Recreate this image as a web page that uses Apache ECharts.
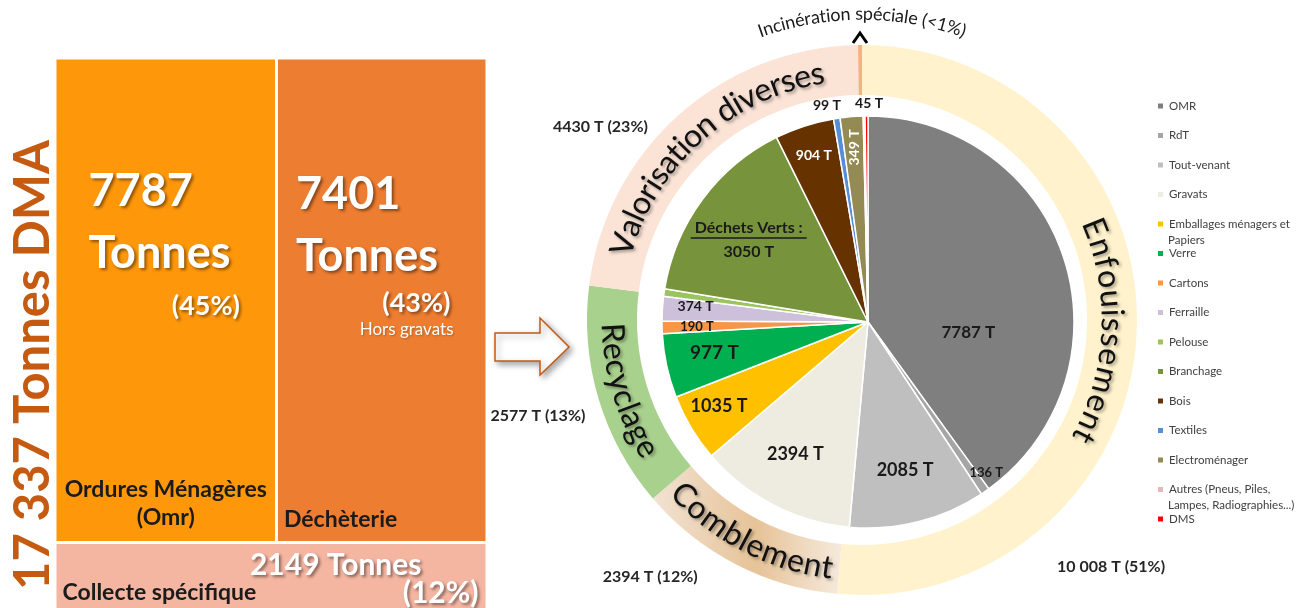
<!DOCTYPE html>
<html>
<head>
<meta charset="utf-8">
<script src="https://cdn.jsdelivr.net/npm/echarts@6/dist/echarts.min.js"></script>
<style>
  html, body { margin: 0; padding: 0; background: #fff; }
  #main { width: 1304px; height: 608px; }
</style>
</head>
<body>
<div id="main"></div>
<script>
// --- collecte (pavés de gauche)
const collecteNames = ['Ordures Ménagères\n(Omr)', 'Déchèterie', 'Collecte spécifique']
const collecteValues = [7787, 7401, 2149]

// --- détail des flux (camembert intérieur)
const fluxNames = ['OMR', 'RdT', 'Tout-venant', 'Gravats', 'Emballages ménagers et\nPapiers', 'Verre', 'Cartons',
  'Ferraille', 'Pelouse', 'Branchage', 'Bois', 'Textiles', 'Electroménager',
  'Autres (Pneus, Piles,\nLampes, Radiographies...)', 'DMS']
const fluxValues = [7787, 136, 2085, 2394, 1035, 977, 190, 374, 115, 2935, 904, 99, 349, 28, 45]

// --- filières (anneau extérieur)
const filiereNames = ['Enfouissement', 'Comblement', 'Recyclage', 'Valorisation diverses', 'Incinération spéciale']
const filiereValues = [10008, 2394, 2577, 4430, 45]

const FONT = 'Lato, "Open Sans", sans-serif'
const FLUX_COLORS = ['#7F7F7F', '#A5A5A5', '#BFBFBF', '#EEECE1', '#FFC000', '#00B050', '#F79646', '#CCC0DA',
  '#9BC35F', '#77933C', '#663300', '#558ED5', '#948A54', '#E6B9B8', '#FF0000']
const COLLECTE_COLORS = ['#FF970A', '#ED7D31', '#F4B5A1']
const PIE_C = [868, 322], PIE_R = 206
const RING_C = [862, 320], RING_R = [225, 275]
const LEG_LEFT = 1156, LEG_TOP = 99, LEG_STEP = 29.5, LEG_FONT = 11.5

const sum = arr => arr.reduce((a, b) => a + b, 0)
const fmtT = n => n >= 10000 ? String(n).replace(/\B(?=(\d{3})+(?!\d))/g, ' ') : String(n)
function midAngles(values) {
  const tot = sum(values)
  let acc = 0
  return values.map(v => { const a = (acc + v / 2) / tot * 360; acc += v; return a })
}
const fluxMid = midAngles(fluxValues)
const filiereMid = midAngles(filiereValues)
const filiereTotal = sum(filiereValues)
const collecteTotal = sum(collecteValues)

// texte courbé le long de l'anneau
const measureCtx = document.createElement('canvas').getContext('2d')
function arcText(text, centre, radius, midDeg, fontSize, opts) {
  const weight = opts.weight || 'normal'
  measureCtx.font = weight + ' ' + fontSize + 'px ' + FONT
  const chars = Array.from(text)
  const widths = chars.map(ch => measureCtx.measureText(ch).width)
  const full = measureCtx.measureText(text).width * (opts.stretch || 1)
  const k = full / sum(widths)
  const dir = opts.inward ? -1 : 1
  const mid = midDeg * Math.PI / 180
  let pos = 0
  return chars.map((ch, i) => {
    const w = widths[i] * k
    const a = mid + dir * (pos + w / 2 - full / 2) / radius
    pos += w
    return {
      type: 'text', silent: true, z: 50,
      x: centre[0] + radius * Math.sin(a),
      y: centre[1] - radius * Math.cos(a),
      rotation: opts.inward ? Math.PI - a : -a,
      style: {
        text: ch, fontSize: fontSize, fontFamily: FONT, fontWeight: weight, fill: opts.color || '#111',
        align: 'center', verticalAlign: 'middle',
        textShadowColor: opts.shadow ? 'rgba(0,0,0,0.35)' : 'transparent',
        textShadowBlur: opts.shadow ? 3 : 0, textShadowOffsetX: opts.shadow ? 2 : 0, textShadowOffsetY: opts.shadow ? 2 : 0
      }
    }
  })
}

// libellés du camembert intérieur : [rayon relatif, décalage angulaire]
const fluxLabelAt = {
  0: [0.49, 24], 1: [0.93, -3.5], 2: [0.74, 0], 3: [0.73, 1.5], 4: [0.83, 1.5], 5: [0.76, 1],
  6: [0.83, 0], 7: [0.84, 1.5], 9: [0.70, -2.3], 10: [0.85, 0], 11: [1.07, -2], 12: [0.85, 0], 14: [1.06, 0.7]
}
const fluxLabelStyle = {
  0: {fontSize: 17}, 1: {fontSize: 13}, 2: {fontSize: 18}, 3: {fontSize: 18}, 4: {fontSize: 18},
  5: {fontSize: 19}, 6: {fontSize: 13}, 7: {fontSize: 14}, 9: {fontSize: 16}, 10: {fontSize: 14, color: '#fff'},
  11: {fontSize: 14}, 12: {fontSize: 14, color: '#fff', rotate: 90}, 14: {fontSize: 14}
}
// libellés de l'anneau : [distance, angle]
const ringLabelAt = {0: [351, 134.8], 1: [333, 219.5], 2: [338, 253.5], 3: [325, 306.4]}
const ringTextStretch = [1.12, 1, 1, 1]

const shadow = {textShadowColor: 'rgba(0,0,0,0.45)', textShadowBlur: 3, textShadowOffsetX: 2, textShadowOffsetY: 2}
const big = Object.assign({fontSize: 45, fontWeight: 'bold', color: '#fff', lineHeight: 62, fontFamily: FONT}, shadow)
const pct = Object.assign({fontSize: 27, fontWeight: 'bold', color: '#fff', lineHeight: 32, fontFamily: FONT, align: 'right'}, shadow)
const nm = {fontSize: 23, fontWeight: 'bold', color: '#1b1b1b', lineHeight: 28, fontFamily: FONT}
const gap = h => ({fontSize: 1, lineHeight: h})

const treemapRich = {
  bigA: Object.assign({}, big, {align: 'left', padding: [0, 0, 0, 32]}),
  bigB: Object.assign({}, big, {align: 'left', padding: [0, 0, 0, 18]}),
  pctA: Object.assign({}, pct, {padding: [0, 35, 0, 0]}),
  pctB: Object.assign({}, pct, {padding: [0, 35, 0, 0]}),
  pctC: Object.assign({}, pct, {fontSize: 30, padding: [0, 7, 0, 0], lineHeight: 28}),
  midC: Object.assign({}, pct, {fontSize: 30, padding: [0, 64, 0, 0], lineHeight: 28}),
  subB: Object.assign({fontSize: 17, color: '#fff', lineHeight: 20, fontFamily: FONT, align: 'right', padding: [0, 32, 0, 0]},
    {textShadowColor: 'rgba(0,0,0,0.25)', textShadowBlur: 2, textShadowOffsetX: 1, textShadowOffsetY: 1}),
  nmC: Object.assign({}, nm, {align: 'center'}),
  nmB: Object.assign({}, nm, {align: 'left', padding: [0, 0, 0, 6]}),
  nmL: Object.assign({}, nm, {align: 'left', padding: [0, 0, 0, 6]}),
  s101: gap(101), s104: gap(104), s6: gap(6), s153: gap(153), s166: gap(166), s7: gap(7)
}

function treemapLabel(p) {
  const i = collecteNames.indexOf(p.name)
  const v = collecteValues[i]
  const pc = '(' + Math.round(v / collecteTotal * 100) + '%)'
  const nameLines = collecteNames[i].split('\n')
  if (i === 0) {
    return ['{s101| }', '{bigA|' + fmtT(v) + '}', '{bigA|Tonnes}', '{s6| }', '{pctA|' + pc + '}', '{s153| }']
      .concat(nameLines.map(l => '{nmC|' + l + '}')).join('\n')
  }
  if (i === 1) {
    return ['{s104| }', '{bigB|' + fmtT(v) + '}', '{bigB|Tonnes}', '{pctB|' + pc + '}', '{subB|Hors gravats}', '{s166| }',
      '{nmB|' + nameLines[0] + '}'].join('\n')
  }
  return ['{s7| }', '{midC|' + fmtT(v) + ' Tonnes}', '{nmL|' + nameLines[0] + '}{pctC|' + pc + '}'].join('\n')
}

const fluxData = fluxNames.map((name, i) => {
  const st = fluxLabelStyle[i]
  return {
    name: name, value: fluxValues[i],
    itemStyle: {color: FLUX_COLORS[i]},
    label: st ? Object.assign({show: true}, st) : {show: false}
  }
})

const dechetsVerts = fluxValues[fluxNames.indexOf('Pelouse')] + fluxValues[fluxNames.indexOf('Branchage')]

const ringColors = [
  '#FFF2CC',
  new echarts.graphic.LinearGradient(0, 0, 1, 0, [
    {offset: 0, color: '#F2E2D2'}, {offset: 0.55, color: '#E6C398'}, {offset: 1, color: '#F6EADD'}
  ]),
  '#A9D18E', '#FBE3D6', '#F4B183'
]

const graphics = [
  // titre vertical
  {
    type: 'text', x: 33, y: 365, rotation: Math.PI / 2, silent: true,
    style: {text: fmtT(collecteTotal) + ' Tonnes DMA', fontSize: 49, fontWeight: 'bold', fontFamily: FONT,
      fill: '#C55A11', align: 'center', verticalAlign: 'middle'}
  },
  // flèche
  {
    type: 'polygon', silent: true,
    shape: {points: [[495, 333], [540, 333], [540, 318], [569, 347], [540, 375], [540, 361], [495, 361]]},
    style: {fill: '#fff', stroke: '#C55A11', lineWidth: 1.5, shadowBlur: 6, shadowColor: 'rgba(0,0,0,0.35)',
      shadowOffsetX: 3, shadowOffsetY: 3}
  },
  // chevron incinération
  {
    type: 'polyline', silent: true, z: 60,
    shape: {points: [[RING_C[0] - 9, RING_C[1] - 277], [RING_C[0] - 2, RING_C[1] - 287], [RING_C[0] + 5, RING_C[1] - 277]]},
    style: {stroke: '#000', lineWidth: 3, fill: null}
  }
]
// deuxième ligne des libellés de légende longs
fluxNames.forEach((n, i) => {
  const parts = n.split('\n')
  if (parts.length < 2) return
  graphics.push({
    type: 'text', silent: true, x: LEG_LEFT + 12, y: LEG_TOP + i * LEG_STEP + 7 + 16,
    style: {text: parts[1], fontSize: LEG_FONT, fontFamily: FONT, fill: '#404040', align: 'left', verticalAlign: 'middle'}
  })
})
filiereNames.slice(0, 4).forEach((n, i) => {
  const m = filiereMid[i]
  const inward = m > 100 && m < 260
  graphics.push.apply(graphics, arcText(n, RING_C, 250, m, 32,
    {inward: inward, shadow: true, color: '#111', stretch: ringTextStretch[i]}))
})
const incPct = filiereValues[4] / filiereTotal * 100
graphics.push.apply(graphics, arcText(filiereNames[4] + ' (' + (incPct < 1 ? '<1' : Math.round(incPct)) + '%)',
  RING_C, 306, 0, 18, {color: '#1b1b1b'}))

const chart = echarts.init(document.getElementById('main'))
chart.setOption({
  animation: false,
  textStyle: {fontFamily: FONT},
  legend: {
    orient: 'vertical', left: LEG_LEFT, top: LEG_TOP, padding: 0, itemWidth: 7, itemHeight: 7,
    itemGap: LEG_STEP - 14, icon: 'rect', selectedMode: false, data: fluxNames,
    formatter: n => n.split('\n')[0],
    textStyle: {fontSize: LEG_FONT, color: '#404040', fontFamily: FONT, lineHeight: 14}
  },
  graphic: {elements: graphics},
  series: [
    {
      type: 'treemap', name: 'collecte',
      left: 56.5, top: 59.5, width: 429, height: 550,
      roam: false, nodeClick: false, breadcrumb: {show: false},
      emphasis: {disabled: true},
      itemStyle: {borderWidth: 0, gapWidth: 3, borderColor: '#fff'},
      levels: [{itemStyle: {borderWidth: 0, gapWidth: 3, borderColor: '#fff'}}],
      label: {show: true, position: 'insideTopLeft', padding: 0, distance: 0, formatter: treemapLabel, rich: treemapRich},
      data: collecteNames.map((n, i) => ({name: n, value: collecteValues[i], itemStyle: {color: COLLECTE_COLORS[i]}}))
    },
    {
      type: 'pie', name: 'filieres',
      center: RING_C, radius: RING_R, startAngle: 90, clockwise: true,
      avoidLabelOverlap: false, silent: true, emphasis: {disabled: true},
      itemStyle: {borderWidth: 0},
      label: {
        show: true, position: 'inside', fontSize: 16, fontWeight: 'bold', color: '#262626', fontFamily: FONT,
        formatter: p => fmtT(p.value) + ' T (' + Math.round(p.value / filiereTotal * 100) + '%)'
      },
      labelLine: {show: false},
      labelLayout: function (p) {
        const at = ringLabelAt[p.dataIndex]
        if (!at) return {}
        const a = at[1] * Math.PI / 180
        return {x: RING_C[0] + at[0] * Math.sin(a), y: RING_C[1] - at[0] * Math.cos(a), align: 'center', verticalAlign: 'middle'}
      },
      data: filiereNames.map((n, i) => ({
        name: n, value: filiereValues[i], itemStyle: {color: ringColors[i]},
        label: {show: i < 4}
      }))
    },
    {
      type: 'pie', name: 'flux',
      center: PIE_C, radius: [0, PIE_R], startAngle: 90, clockwise: true,
      avoidLabelOverlap: false, silent: true, emphasis: {disabled: true},
      itemStyle: {borderColor: '#fff', borderWidth: 1.5},
      label: {
        show: true, position: 'inside', fontWeight: 'bold', color: '#1a1a1a', fontFamily: FONT,
        formatter: p => p.name === 'Branchage'
          ? '{u|Déchets Verts :}\n{line| }\n{v|' + dechetsVerts + ' T}'
          : fmtT(p.value) + ' T',
        rich: {
          u: {fontSize: 16, fontWeight: 'bold', color: '#1a1a1a', fontFamily: FONT, lineHeight: 18},
          line: {width: 116, height: 1.5, backgroundColor: '#1a1a1a', fontSize: 1, lineHeight: 3},
          v: {fontSize: 16, fontWeight: 'bold', color: '#1a1a1a', fontFamily: FONT, lineHeight: 24}
        }
      },
      labelLine: {show: false},
      labelLayout: function (p) {
        const at = fluxLabelAt[p.dataIndex]
        if (!at) return {}
        const a = (fluxMid[p.dataIndex] + at[1]) * Math.PI / 180
        const r = PIE_R * at[0]
        return {x: PIE_C[0] + r * Math.sin(a), y: PIE_C[1] - r * Math.cos(a), align: 'center', verticalAlign: 'middle'}
      },
      data: fluxData
    }
  ]
})
</script>
</body>
</html>
